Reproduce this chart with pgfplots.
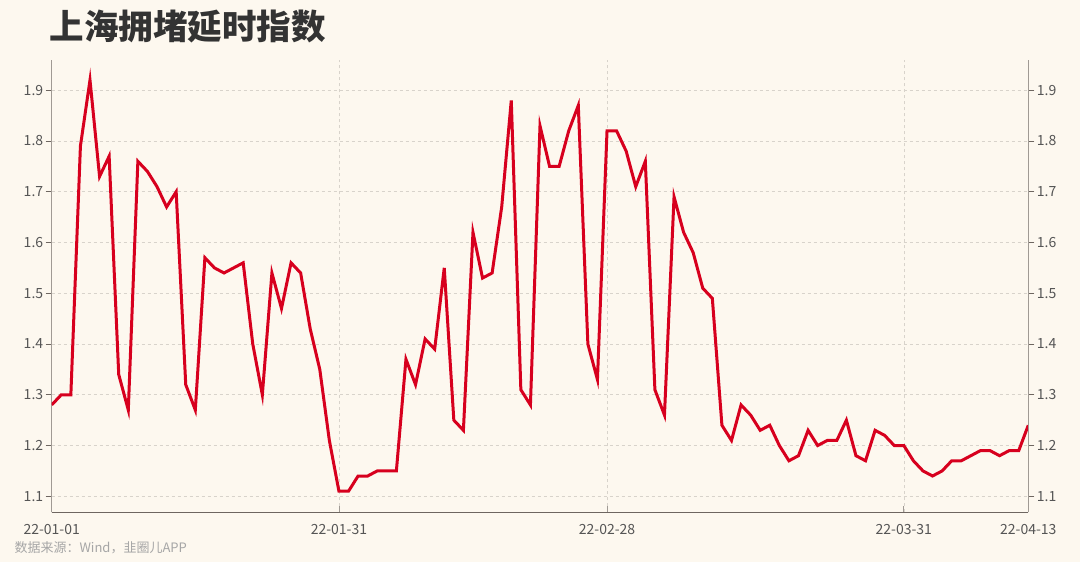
\documentclass[border=0pt]{standalone}
\usepackage{pgfplots}
\pgfplotsset{compat=1.18}
\usepackage{fontspec}
\setmainfont{Noto Sans CJK SC}
\newfontfamily\cjk{Noto Sans CJK SC}
\definecolor{bgc}{HTML}{FDF8EF}
\definecolor{linered}{HTML}{D7001E}
\definecolor{lblc}{HTML}{555555}
\definecolor{gridc}{HTML}{D8D3CB}
\definecolor{axc}{HTML}{A09A94}
\definecolor{axb}{HTML}{6E6660}
\begin{document}
\begin{tikzpicture}
\fill[bgc] (0pt,0pt) rectangle (1080pt,562pt);
\useasboundingbox (0pt,0pt) rectangle (1080pt,562pt);
\node[anchor=west,text=black!80,font=\fontsize{34.5}{38}\selectfont\cjk\bfseries] at (46pt,535pt) {上海拥堵延时指数};
\node[anchor=west,text=black!35,font=\fontsize{13}{15}\selectfont\cjk] at (11pt,14pt) {数据来源：Wind，韭圈儿APP};
\begin{axis}[
  at={(51.7pt,49.7pt)}, anchor=south west,
  scale only axis, width=976.6pt, height=452pt,
  xmin=0, xmax=102, ymin=1.0685, ymax=1.959,
  axis x line*=bottom, axis y line*=left,
  x axis line style={axb, line width=1pt, -},
  y axis line style={axc, line width=1pt, -},
  xtick={0,30,58,89,102},
  xticklabels={22-01-01,22-01-31,22-02-28,22-03-31,22-04-13},
  ytick={1.1,1.2,1.3,1.4,1.5,1.6,1.7,1.8,1.9},
  yticklabel style={/pgf/number format/fixed,/pgf/number format/precision=1, /pgf/number format/fixed zerofill},
  /pgf/number format/assume math mode=true,
  ticklabel style={font=\fontsize{14}{16}\selectfont, text=lblc},
  x tick style={axc, line width=0.8pt},
  y tick style={axb, line width=0.8pt},
  xtick align=inside, ytick align=outside,
  major tick length=6pt,
  xticklabel style={yshift=-9pt},
  yticklabel style={xshift=1pt},
  ymajorgrids, xmajorgrids,
  grid style={gridc, dashed, line width=0.6pt},
]
\addplot[linered, line width=3pt, line join=miter, miter limit=10] table[x=d,y=v] {
d v
0 1.28
1 1.30
2 1.30
3 1.79
4 1.92
5 1.73
6 1.77
7 1.34
8 1.27
9 1.76
10 1.74
11 1.71
12 1.67
13 1.70
14 1.32
15 1.27
16 1.57
17 1.55
18 1.54
19 1.55
20 1.56
21 1.40
22 1.30
23 1.54
24 1.47
25 1.56
26 1.54
27 1.43
28 1.35
29 1.21
30 1.11
31 1.11
32 1.14
33 1.14
34 1.15
35 1.15
36 1.15
37 1.37
38 1.32
39 1.41
40 1.39
41 1.55
42 1.25
43 1.23
44 1.62
45 1.53
46 1.54
47 1.67
48 1.88
49 1.31
50 1.28
51 1.83
52 1.75
53 1.75
54 1.82
55 1.87
56 1.40
57 1.33
58 1.82
59 1.82
60 1.78
61 1.71
62 1.76
63 1.31
64 1.26
65 1.69
66 1.62
67 1.58
68 1.51
69 1.49
70 1.24
71 1.21
72 1.28
73 1.26
74 1.23
75 1.24
76 1.20
77 1.17
78 1.18
79 1.23
80 1.20
81 1.21
82 1.21
83 1.25
84 1.18
85 1.17
86 1.23
87 1.22
88 1.20
89 1.20
90 1.17
91 1.15
92 1.14
93 1.15
94 1.17
95 1.17
96 1.18
97 1.19
98 1.19
99 1.18
100 1.19
101 1.19
102 1.24
};
\end{axis}
\begin{axis}[
  at={(51.7pt,49.7pt)}, anchor=south west,
  scale only axis, width=976.6pt, height=452pt,
  xmin=0, xmax=102, ymin=1.0685, ymax=1.959,
  hide x axis,
  axis y line*=right,
  y axis line style={axc, line width=1pt, -},
  ytick={1.1,1.2,1.3,1.4,1.5,1.6,1.7,1.8,1.9},
  yticklabel style={/pgf/number format/fixed,/pgf/number format/precision=1, /pgf/number format/fixed zerofill, xshift=-1pt},
  /pgf/number format/assume math mode=true,
  ticklabel style={font=\fontsize{14}{16}\selectfont, text=lblc},
  y tick style={axb, line width=0.8pt},
  ytick align=outside,
  major tick length=6pt,
]
\addplot[draw=none] coordinates {(0,1.5)};
\end{axis}
\end{tikzpicture}
\end{document}
